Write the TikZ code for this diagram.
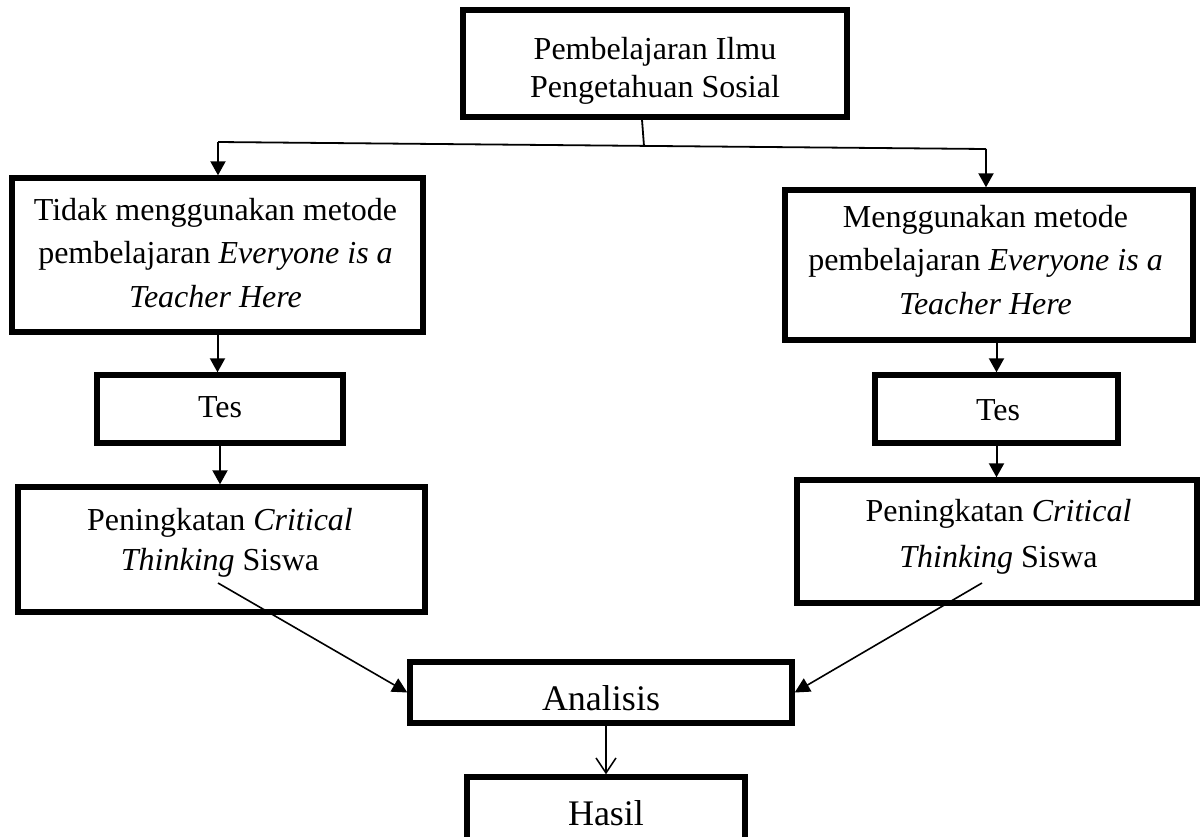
\documentclass[tikz,border=0pt]{standalone}
\usepackage{fontspec}
\setmainfont{Liberation Serif}
\usetikzlibrary{arrows.meta,calc}
\begin{document}
\begin{tikzpicture}[x=0.5pt,y=-0.5pt,
  box/.style={draw,line width=2.7pt,inner sep=0pt},
  txt/.style={align=center,inner sep=0pt,font=\fontsize{16}{21.75}\selectfont},
  bigtxt/.style={inner sep=0pt,font=\fontsize{18}{22}\selectfont},
  conn/.style={line width=0.9pt},
  arr/.style={line width=1pt,-{Triangle[width=7.5pt,length=7pt]}},
  arrthin/.style={line width=0.8pt,-{Triangle[width=7.5pt,length=7.5pt]}},
  barb/.style={line width=0.75pt,-{Straight Barb[width=10pt,length=7.5pt]}}]
\useasboundingbox (0,0) rectangle (1200,836);
\fill[white] (0,0) rectangle (1200,836);

% boxes
\node[box,minimum width=192pt,minimum height=53.5pt] (top) at (655,63.5) {};
\node[box,minimum width=205.5pt,minimum height=77pt] (L1) at (217.5,255) {};
\node[box,minimum width=204pt,minimum height=75pt] (R1) at (989,265) {};
\node[box,minimum width=123pt,minimum height=34pt] (LT) at (220,409) {};
\node[box,minimum width=121.5pt,minimum height=34pt] (RT) at (996.5,409) {};
\node[box,minimum width=203.5pt,minimum height=62.5pt] (LP) at (221.5,549.5) {};
\node[box,minimum width=200pt,minimum height=61.5pt] (RP) at (997,541.5) {};
\node[box,minimum width=191pt,minimum height=30.5pt] (AN) at (601,692.5) {};
\node[box,minimum width=139pt,minimum height=36pt] (HA) at (606,813) {};

% texts
\node[txt,font=\fontsize{16}{19}\selectfont] (topT) at (655,71) {Pembelajaran Ilmu\\Pengetahuan Sosial};
\node[txt] (L1T) at (215.5,253) {Tidak menggunakan metode\\pembelajaran \textit{Everyone is a}\\\textit{Teacher Here}};
\node[txt] (R1T) at (985.5,260) {Menggunakan metode\\pembelajaran \textit{Everyone is a}\\\textit{Teacher Here}};
\node[txt] (LTT) at (220,407) {Tes};
\node[txt] (RTT) at (998,410) {Tes};
\node[txt,font=\fontsize{16}{20}\selectfont] (LPT) at (220,543) {Peningkatan \textit{Critical}\\\textit{Thinking} Siswa};
\node[txt,font=\fontsize{16}{23}\selectfont] (RPT) at (998.5,537) {Peningkatan \textit{Critical}\\\textit{Thinking} Siswa};
\node[bigtxt] (ANT) at (601,698) {Analisis};
\node[bigtxt] (HAT) at (606,813) {Hasil};

% connector points
\coordinate (j) at (644,146);
\coordinate (jl) at (218,142);
\coordinate (jr) at (986,149);
\coordinate (lpt) at (218,583);
\coordinate (rpt) at (982,583);

% connectors
\draw[conn] ($(top.south)+(-13,0)$) -- (j);
\draw[conn] (jl) -- (jr);
\draw[arr] (jl) -- (jl |- L1.north);
\draw[arr] (jr) -- (jr |- R1.north);
\draw[arr] (L1.south) -- (L1.south |- LT.north);
\draw[arr] (LT.south) -- (LT.south |- LP.north);
\draw[arr] (RT.north |- R1.south) -- (RT.north);
\draw[arr] (RT.south) -- (RT.south |- RP.north);
\draw[arrthin] (lpt) -- (AN.west);
\draw[arrthin] (rpt) -- (AN.east);
\draw[barb] (AN.south -| HA.north) -- (HA.north);
\end{tikzpicture}
\end{document}
